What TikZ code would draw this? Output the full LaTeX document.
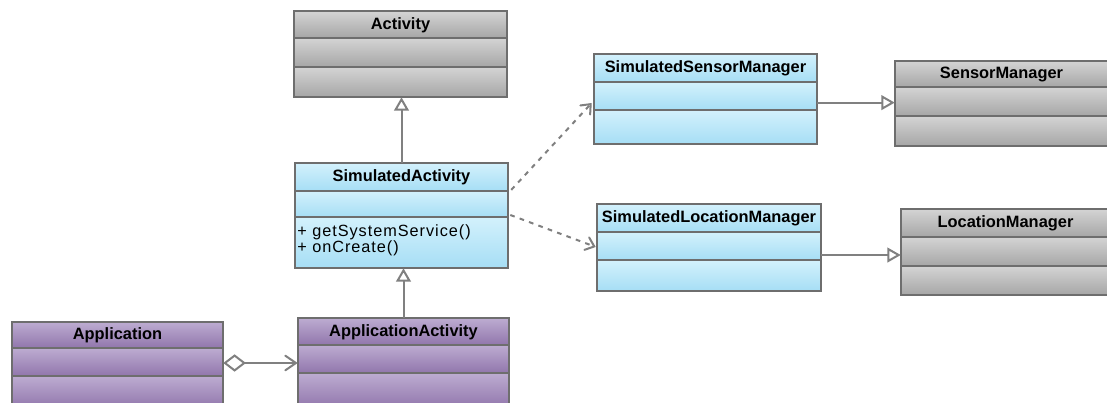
\documentclass[tikz,border=0pt]{standalone}
\usepackage{fontspec}
\setmainfont{Liberation Sans}
\newfontfamily\opsfont[LetterSpace=6]{Liberation Sans}
\usetikzlibrary{arrows.meta,calc,fit}

\definecolor{edgegray}{HTML}{6E6E6E}
\definecolor{linkgray}{HTML}{808080}
\definecolor{grayTop}{HTML}{D4D4D4}
\definecolor{grayBot}{HTML}{A6A6A6}
\definecolor{blueTop}{HTML}{D3F1FC}
\definecolor{blueBot}{HTML}{A6DEF5}
\definecolor{purpTop}{HTML}{BDACD1}
\definecolor{purpBot}{HTML}{9176AC}

\tikzset{
  classline/.style={draw=edgegray, line width=1.5pt},
  graycls/.style={top color=grayTop, bottom color=grayBot},
  bluecls/.style={top color=blueTop, bottom color=blueBot},
  purpcls/.style={top color=purpTop, bottom color=purpBot},
  clstitle/.style={font=\fontsize{12.3}{14}\selectfont\bfseries, inner sep=0pt, text=black},
  clsops/.style={font=\opsfont\fontsize{12.2}{12}\selectfont, inner sep=0pt, anchor=base west, text=black},
  link/.style={draw=linkgray, line width=1.5pt},
  gen/.style={link, -{Triangle[open, fill=white, length=10pt, width=11pt]}},
  depend/.style={link, dash pattern=on 3.5pt off 4pt,
    -{Straight Barb[length=6pt, width=10pt, line cap=round]}},
  aggr/.style={link, {Diamond[open, fill=white, length=17pt, width=13pt]}-{Straight Barb[length=8pt, width=11pt, line cap=round]}},
}

% A class box with a header, an attribute and an operation compartment.
% #1 name, #2 left, #3 right, #4 top, #5 header bottom, #6 divider, #7 bottom,
% #8 fill style, #9 class name
\newcommand\classbox[9]{%
  \shade[#8] (#2,#4) rectangle (#3,#5);
  \shade[#8] (#2,#5) rectangle (#3,#6);
  \shade[#8] (#2,#6) rectangle (#3,#7);
  \draw[classline] (#2,#5) -- (#3,#5) (#2,#6) -- (#3,#6);
  \draw[classline] (#2,#4) rectangle (#3,#7);
  \node[clstitle] (#1-title) at ({(#2+#3)/2},{(#4+#5)/2+0.5}) {#9};
  \coordinate (#1-nw) at (#2,#4);
  \coordinate (#1-se) at (#3,#7);
  \node[fit=(#1-nw)(#1-se), inner sep=0pt] (#1) {};
}

\begin{document}
\begin{tikzpicture}[x=0.75pt, y=-0.75pt]
  \path[clip] (0,0) rectangle (1107,403);
  \useasboundingbox (0,0) rectangle (1107,403);
  \fill[white] (0,0) rectangle (1107,403);

  % Framework classes
  \classbox{act}{294}{507}{11}{38}{67}{97}{graycls}{Activity}
  \classbox{sm}{895}{1108}{61}{87}{116}{146}{graycls}{SensorManager}
  \classbox{lm}{901}{1110}{209}{237}{266}{295}{graycls}{LocationManager}

  % Simulation classes
  \classbox{sa}{295}{508}{163}{191}{217}{268}{bluecls}{SimulatedActivity}
  \node[clsops] (sa-op1) at (297,236.7) {+ getSystemService()};
  \node[clsops] (sa-op2) at (297,252.7) {+ onCreate()};
  \classbox{ssm}{594}{817}{54}{82}{110}{144}{bluecls}{SimulatedSensorManager}
  \classbox{slm}{597}{821}{204}{232}{260}{291}{bluecls}{SimulatedLocationManager}

  % Application classes
  \classbox{app}{12}{223}{322}{348}{376}{408}{purpcls}{Application}
  \classbox{aa}{298}{509}{318}{345}{373}{408}{purpcls}{ApplicationActivity}

  % Generalizations
  \draw[gen] (sa.north) -- (sa.north |- act.south);
  \draw[gen] (aa.north) -- (aa.north |- sa.south);
  \coordinate (ssm-out) at ($(ssm.north east)!0.54!(ssm.south east)$);
  \draw[gen] (ssm-out) -- (ssm-out -| sm.west);
  \coordinate (slm-out) at ($(slm.north east)!0.586!(slm.south east)$);
  \draw[gen] (slm-out) -- (slm-out -| lm.west);

  % Dependencies
  \draw[depend] ($(sa.north east)!0.257!(sa.south east)+(3,0)$) -- ($(ssm.north west)!0.544!(ssm.south west)+(-2,0)$);
  \draw[depend] ($(sa.north east)!0.495!(sa.south east)+(2,0)$) -- ($(slm.north west)!0.494!(slm.south west)+(-1,0)$);

  % Aggregation
  \coordinate (agg-y) at (0,363);
  \draw[aggr] (app.east |- agg-y) -- (aa.west |- agg-y);
\end{tikzpicture}
\end{document}
